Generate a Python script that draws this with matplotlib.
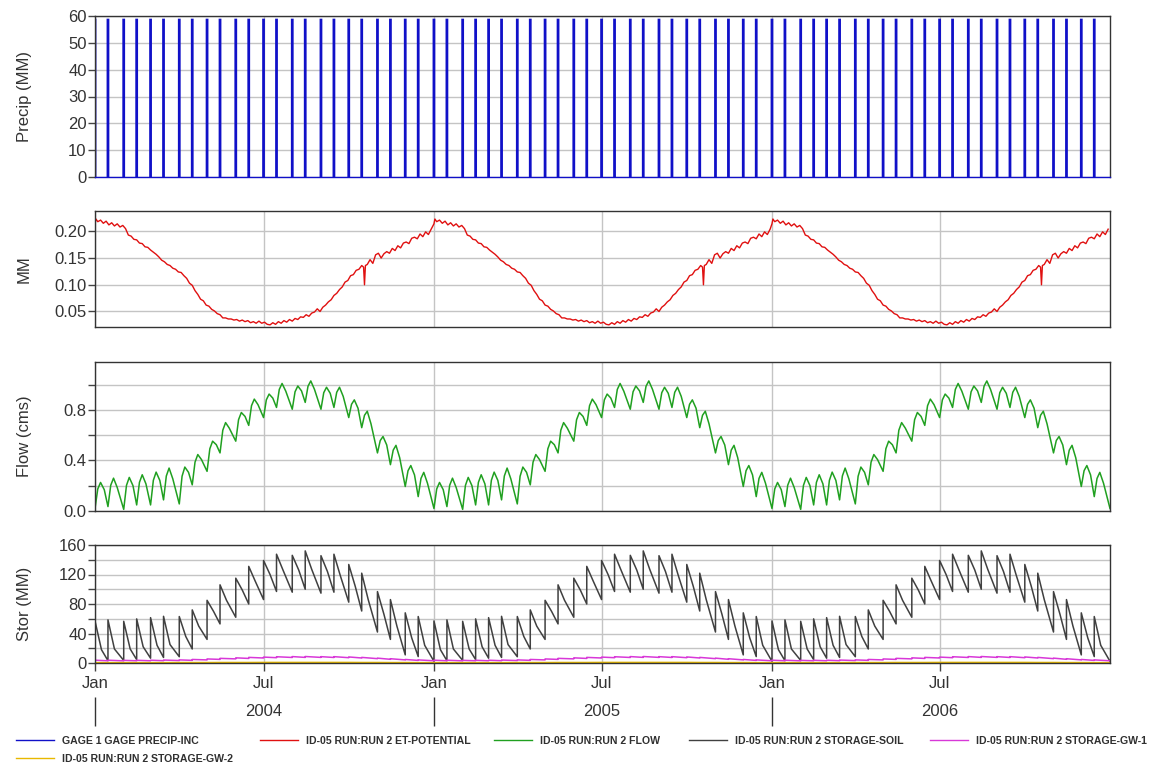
import numpy as np
import matplotlib
matplotlib.use("Agg")
import matplotlib.pyplot as plt
import matplotlib.dates as mdates
from matplotlib.lines import Line2D
from matplotlib.ticker import (MultipleLocator, FormatStrFormatter, FixedLocator,
                               FixedFormatter, NullFormatter)

plt.rcParams['font.family'] = ['Liberation Sans', 'DejaVu Sans']

YEARS = [2004, 2005, 2006]

# gage events: 1st and 15th of each month, same every year
EVENT_MD = ["01-01", "01-15", "02-01", "02-15", "03-01", "03-15",
            "04-01", "04-15", "05-01", "05-15", "06-01", "06-15",
            "07-01", "07-15", "08-01", "08-15", "09-01", "09-15",
            "10-01", "10-15", "11-01", "11-15", "12-01", "12-15"]
PRECIP_MM = [59, 59, 59, 59, 59, 59, 59, 59, 59, 59, 59, 59,
             59, 59, 59, 59, 59, 59, 59, 59, 59, 59, 59, 59]

# soil storage just before / just after each event, and 7 days later (MM)
SOIL_BEFORE = [2.3, 3.2, 3.5, 4.6, 6.5, 7.5, 8.5, 19.0, 32.0, 53.0, 62.0, 80.0,
               86.0, 97.0, 96.0, 100.0, 94.7, 96.0, 82.5, 70.5, 42.0, 32.0, 11.0, 8.7]
SOIL_AFTER = [57.0, 58.5, 56.5, 59.8, 61.5, 63.3, 63.0, 72.0, 85.0, 106.0, 115.0, 131.0,
              139.0, 147.5, 146.0, 152.0, 145.5, 147.5, 133.6, 121.8, 96.8, 86.0, 68.0, 63.0]
SOIL_WEEK = [18.0, 19.0, 19.0, 22.0, 24.0, 25.0, 36.0, 50.0, 70.0, 85.0, 99.0, 111.0,
             120.0, 126.0, 126.0, 127.0, 124.0, 118.0, 104.0, 86.0, 66.0, 50.0, 34.0, 24.0]

# groundwater storages (MM)
GW1_BEFORE = [3.0, 3.0, 2.9, 3.0, 3.0, 3.1, 3.3, 3.6, 4.2, 4.9, 5.6, 6.2,
              6.8, 7.2, 7.5, 7.6, 7.6, 7.5, 7.2, 6.8, 5.9, 5.0, 4.2, 3.5]
GW1_AFTER = [3.8, 3.8, 3.6, 3.7, 3.8, 4.0, 4.2, 4.8, 5.5, 6.3, 7.0, 7.6,
             8.0, 8.5, 8.7, 8.8, 8.6, 8.6, 8.2, 7.6, 6.6, 5.8, 4.8, 4.2]
GW2 = [0.4, 0.4, 0.4, 0.4, 0.4, 0.4, 0.5, 0.5, 0.5, 0.6, 0.6, 0.6,
       0.7, 0.7, 0.7, 0.7, 0.7, 0.7, 0.7, 0.6, 0.6, 0.5, 0.5, 0.4]

# outflow per event (cms): at the event, on the rise, at the crest, on the recession
FLOW_LOW = [0.020, 0.035, 0.013, 0.048, 0.048, 0.088, 0.056, 0.207, 0.314, 0.460, 0.553, 0.678,
            0.740, 0.820, 0.806, 0.860, 0.806, 0.820, 0.740, 0.660, 0.460, 0.367, 0.194, 0.114]
FLOW_RISE = [0.175, 0.204, 0.203, 0.227, 0.243, 0.277, 0.275, 0.387, 0.493, 0.640, 0.723, 0.834,
             0.880, 0.963, 0.944, 0.988, 0.937, 0.940, 0.845, 0.758, 0.558, 0.482, 0.319, 0.258]
FLOW_HIGH = [0.226, 0.260, 0.266, 0.287, 0.308, 0.340, 0.348, 0.447, 0.553, 0.700, 0.780, 0.886,
             0.926, 1.010, 0.990, 1.030, 0.980, 0.980, 0.880, 0.790, 0.590, 0.520, 0.360, 0.306]
FLOW_FALL = [0.169, 0.186, 0.201, 0.215, 0.242, 0.255, 0.306, 0.407, 0.525, 0.656, 0.749, 0.842,
             0.894, 0.949, 0.951, 0.963, 0.932, 0.908, 0.814, 0.691, 0.523, 0.422, 0.286, 0.220]
SOIL_LAG_DAYS = 7
FLOW_LAG_DAYS = [3, 6, 10]

# potential ET, day of year -> MM
ET_DAY = [0, 1, 3, 6, 9, 12, 15, 18, 21, 24,
          27, 30, 33, 36, 39, 42, 45, 48, 51, 54,
          57, 60, 63, 66, 69, 72, 75, 78, 81, 84,
          87, 90, 93, 96, 99, 102, 105, 108, 111, 114,
          117, 120, 123, 126, 129, 132, 135, 138, 141, 144,
          147, 150, 153, 156, 159, 162, 165, 168, 171, 174,
          177, 180, 183, 186, 189, 192, 195, 198, 201, 204,
          207, 210, 213, 216, 219, 222, 225, 228, 231, 234,
          237, 240, 243, 246, 249, 252, 255, 258, 261, 264,
          267, 270, 273, 276, 279, 282, 285, 288, 290, 291,
          292, 294, 297, 300, 303, 306, 309, 312, 315, 318,
          321, 324, 327, 330, 333, 336, 339, 342, 345, 348,
          351, 354, 357, 360, 363]
ET_MM = [.214, .223, .218, .221, .215, .219, .212, .216, .210, .214,
         .208, .211, .205, .193, .191, .185, .184, .178, .177, .171,
         .170, .165, .161, .157, .152, .146, .143, .138, .136, .131,
         .129, .124, .123, .117, .112, .103, .099, .089, .082, .073,
         .070, .062, .060, .054, .051, .046, .044, .038, .038, .036,
         .036, .034, .035, .032, .034, .031, .033, .029, .031, .028,
         .032, .028, .030, .026, .025, .029, .026, .031, .028, .033,
         .030, .035, .032, .037, .035, .040, .039, .044, .041, .047,
         .049, .055, .050, .058, .062, .068, .072, .080, .084, .091,
         .096, .105, .108, .117, .119, .127, .129, .136, .133, .100,
         .136, .138, .147, .140, .156, .159, .150, .158, .162, .159,
         .168, .164, .173, .169, .178, .180, .177, .187, .189, .186,
         .195, .190, .199, .194, .204]

LABELS = ["GAGE 1 GAGE PRECIP-INC", "ID-05 RUN:RUN 2 ET-POTENTIAL",
          "ID-05 RUN:RUN 2 FLOW", "ID-05 RUN:RUN 2 STORAGE-SOIL",
          "ID-05 RUN:RUN 2 STORAGE-GW-1", "ID-05 RUN:RUN 2 STORAGE-GW-2"]
COLORS = ["#1010c8", "#e01010", "#20a020", "#404040", "#d838d8", "#e8b800"]

START = np.datetime64("2004-01-01", "h")
END = np.datetime64("2007-01-01", "h")
DAY = np.timedelta64(24, "h")

# ---- build the time series -------------------------------------------------
event_t, precip_v = [], []
soil_t, soil_v = [], []
gw1_t, gw1_v = [], []
gw2_t, gw2_v = [], []
flow_t, flow_v = [], []
et_t, et_v = [], []
for yr in YEARS:
    for i, md in enumerate(EVENT_MD):
        t0 = np.datetime64(f"{yr}-{md}", "h")
        event_t.append(t0)
        precip_v.append(PRECIP_MM[i])
        soil_t += [t0, t0, t0 + SOIL_LAG_DAYS * DAY]
        soil_v += [SOIL_BEFORE[i], SOIL_AFTER[i], SOIL_WEEK[i]]
        gw1_t += [t0, t0]
        gw1_v += [GW1_BEFORE[i], GW1_AFTER[i]]
        gw2_t.append(t0)
        gw2_v.append(GW2[i])
        flow_t += [t0] + [t0 + lag * DAY for lag in FLOW_LAG_DAYS]
        flow_v += [FLOW_LOW[i], FLOW_RISE[i], FLOW_HIGH[i], FLOW_FALL[i]]
    jan1 = np.datetime64(f"{yr}-01-01", "h")
    et_t += list(jan1 + np.array(ET_DAY) * DAY)
    et_v += ET_MM

# close the event-driven series at the end of the record
soil_t.append(END); soil_v.append(SOIL_BEFORE[0])
gw1_t.append(END); gw1_v.append(GW1_BEFORE[0])
gw2_t.append(END); gw2_v.append(GW2[0])
flow_t.append(END); flow_v.append(FLOW_LOW[0])

# ---- figure ----------------------------------------------------------------
W, H = 1164, 766
fig = plt.figure(figsize=(W / 100, H / 100), dpi=100)


def panel(top, bottom, share=None):
    return fig.add_axes([95 / W, 1 - bottom / H, 1015 / W, (bottom - top) / H], sharex=share)


ax_p = panel(16, 177)
ax_e = panel(211, 327, ax_p)
ax_f = panel(362, 511, ax_p)
ax_s = panel(545, 663, ax_p)

ax_p.vlines(event_t, 0, precip_v, color=COLORS[0], lw=2.0, snap=False)
ax_e.plot(et_t, et_v, color=COLORS[1], lw=1.0)
ax_f.plot(flow_t, flow_v, color=COLORS[2], lw=1.1)
ax_s.plot(soil_t, soil_v, color=COLORS[3], lw=1.1)
ax_s.plot(gw1_t, gw1_v, color=COLORS[4], lw=1.1)
ax_s.plot(gw2_t, gw2_v, color=COLORS[5], lw=1.2)

grid_dates = [np.datetime64(d) for d in
              ["2004-01-01", "2004-07-01", "2005-01-01", "2005-07-01", "2006-01-01", "2006-07-01"]]

for ax in (ax_p, ax_e, ax_f, ax_s):
    ax.set_xlim(START, END)
    ax.xaxis.set_major_locator(FixedLocator(mdates.date2num(grid_dates)))
    ax.grid(True, which="major", color="#c4c4c4", lw=1)
    ax.set_axisbelow(True)
    ax.tick_params(axis="y", which="both", direction="out", length=5, width=1,
                   color="#444444", labelsize=12, labelcolor="#333333", pad=1)
    ax.tick_params(axis="x", which="both", length=0, labelbottom=False)
    for sp in ax.spines.values():
        sp.set_color("#333333")
        sp.set_linewidth(1)
    ax.yaxis.set_label_coords(-0.062, 0.5)

# precip
ax_p.set_ylim(0, 60)
ax_p.yaxis.set_major_locator(MultipleLocator(10))
ax_p.spines["bottom"].set_color(COLORS[0])
ax_p.set_ylabel("Precip (MM)", fontsize=12, color="#333333")

# ET
ax_e.set_ylim(0.021, 0.238)
ax_e.yaxis.set_major_locator(MultipleLocator(0.05))
ax_e.yaxis.set_major_formatter(FormatStrFormatter("%.2f"))
ax_e.set_ylabel("MM", fontsize=12, color="#333333")

# flow
ax_f.set_ylim(0, 1.18)
ax_f.yaxis.set_major_locator(MultipleLocator(0.4))
ax_f.yaxis.set_minor_locator(MultipleLocator(0.2))
ax_f.yaxis.set_major_formatter(FormatStrFormatter("%.1f"))
ax_f.grid(True, which="minor", axis="y", color="#c4c4c4", lw=1)
ax_f.set_ylabel("Flow (cms)", fontsize=12, color="#333333")

# storage
ax_s.set_ylim(0, 160)
ax_s.yaxis.set_major_locator(MultipleLocator(40))
ax_s.yaxis.set_minor_locator(MultipleLocator(20))
ax_s.grid(True, which="minor", axis="y", color="#c4c4c4", lw=1)
ax_s.set_ylabel("Stor (MM)", fontsize=12, color="#333333")

ax_s.tick_params(axis="x", which="major", length=6, width=1, color="#444444",
                 labelbottom=True, labelsize=12, labelcolor="#333333", pad=3)
ax_s.xaxis.set_major_formatter(mdates.DateFormatter("%b"))

# year row under the month labels
year_starts = [np.datetime64(f"{y}-01-01") for y in YEARS]
year_mids = [np.datetime64(f"{y}-07-01") for y in YEARS]
sec = ax_s.secondary_xaxis(-0.29)
sec.spines["bottom"].set_visible(False)
sec.xaxis.set_major_locator(FixedLocator(mdates.date2num(year_starts)))
sec.xaxis.set_major_formatter(NullFormatter())
sec.xaxis.set_minor_locator(FixedLocator(mdates.date2num(year_mids)))
sec.xaxis.set_minor_formatter(FixedFormatter([str(y) for y in YEARS]))
sec.tick_params(which="major", length=21, width=1, color="#333333")
sec.tick_params(which="minor", length=0, labelsize=12, labelcolor="#333333", pad=5)

# legend: five entries on the first row, the sixth below the first
leg_x = [16, 260, 494, 689, 930, 16]
leg_y = [741, 741, 741, 741, 741, 759]
for label, color, x, y in zip(LABELS, COLORS, leg_x, leg_y):
    fig.legend([Line2D([], [], color=color, lw=1)], [label],
               loc="center left", bbox_to_anchor=(x / W, 1 - y / H),
               frameon=False, borderpad=0, borderaxespad=0,
               handlelength=3.6, handletextpad=0.8,
               prop={"family": "Liberation Sans", "size": 7.6, "weight": "bold"},
               labelcolor="#303030")

fig.savefig("out.png", dpi=100)
